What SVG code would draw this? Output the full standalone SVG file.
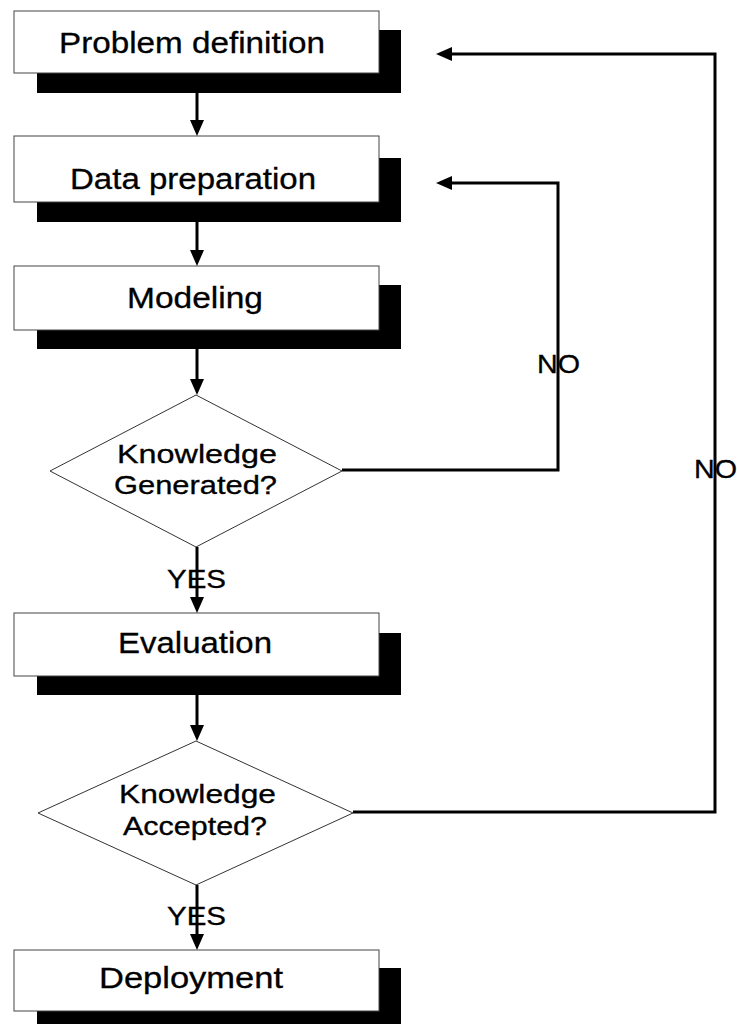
<svg xmlns="http://www.w3.org/2000/svg" width="737" height="1025" viewBox="0 0 737 1025">
  <style>
    .shadow { fill: #000; }
    .box { fill: #fff; stroke: #444; stroke-width: 1; }
    .dec { fill: #fff; stroke: #333; stroke-width: 1; }
    .lbl { font-family: "Liberation Sans", Arial, sans-serif; font-size: 29px; fill: #000; stroke: #000; stroke-width: 0.3; text-anchor: middle; }
    .q { font-family: "Liberation Sans", Arial, sans-serif; font-size: 25px; fill: #000; stroke: #000; stroke-width: 0.3; text-anchor: middle; }
    .tag { font-family: "Liberation Sans", Arial, sans-serif; font-size: 25px; fill: #000; stroke: #000; stroke-width: 0.3; }
    .flow { fill: none; stroke: #000; stroke-width: 3; marker-end: url(#head); }
  </style>
  <defs>
    <marker id="head" markerUnits="userSpaceOnUse" markerWidth="16" markerHeight="14" viewBox="0 0 16 14" refX="3" refY="7" orient="auto">
      <path d="M0,0 L16,7 L0,14 z" fill="#000"/>
    </marker>
  </defs>
  <rect width="737" height="1025" fill="#fff"/>

  <!-- process steps -->
  <g id="problem-definition">
    <rect class="shadow" x="37" y="30" width="364" height="63"/>
    <rect class="box" x="14" y="11" width="365" height="62"/>
    <text class="lbl" x="192" y="53" textLength="266" lengthAdjust="spacingAndGlyphs">Problem definition</text>
  </g>
  <g id="data-preparation">
    <rect class="shadow" x="37" y="158" width="364" height="64"/>
    <rect class="box" x="14" y="136" width="365" height="66"/>
    <text class="lbl" x="193" y="189" textLength="246" lengthAdjust="spacingAndGlyphs">Data preparation</text>
  </g>
  <g id="modeling">
    <rect class="shadow" x="37" y="285" width="364" height="64"/>
    <rect class="box" x="14" y="266" width="365" height="64"/>
    <text class="lbl" x="195" y="308" textLength="136" lengthAdjust="spacingAndGlyphs">Modeling</text>
  </g>
  <g id="knowledge-generated">
    <polygon class="dec" points="196,395 342,471 196,547 50,471"/>
    <text class="q" x="197" y="463" textLength="160" lengthAdjust="spacingAndGlyphs">Knowledge</text>
    <text class="q" x="195.5" y="494" textLength="163" lengthAdjust="spacingAndGlyphs">Generated?</text>
  </g>
  <g id="evaluation">
    <rect class="shadow" x="37" y="633" width="364" height="62"/>
    <rect class="box" x="14" y="613" width="365" height="63"/>
    <text class="lbl" x="195" y="653" textLength="154" lengthAdjust="spacingAndGlyphs">Evaluation</text>
  </g>
  <g id="knowledge-accepted">
    <polygon class="dec" points="196,741 353,813 196,885 38,813"/>
    <text class="q" x="197.5" y="803" textLength="157" lengthAdjust="spacingAndGlyphs">Knowledge</text>
    <text class="q" x="195" y="835" textLength="144" lengthAdjust="spacingAndGlyphs">Accepted?</text>
  </g>
  <g id="deployment">
    <rect class="shadow" x="37" y="968" width="364" height="56"/>
    <rect class="box" x="14" y="950" width="365" height="61"/>
    <text class="lbl" x="191" y="988" textLength="184" lengthAdjust="spacingAndGlyphs">Deployment</text>
  </g>

  <!-- connectors -->
  <g id="connectors">
    <line class="flow" x1="197" y1="93" x2="197" y2="123"/>
    <line class="flow" x1="197" y1="222" x2="197" y2="253"/>
    <line class="flow" x1="197" y1="349" x2="197" y2="382"/>
    <line class="flow" x1="197" y1="547" x2="197" y2="600"/>
    <line class="flow" x1="197" y1="695" x2="197" y2="728"/>
    <line class="flow" x1="197" y1="885" x2="197" y2="937"/>
    <path class="flow" d="M342,470 H558 V183 H449"/>
    <path class="flow" d="M353,812 H715 V54 H449"/>
    <text class="tag" x="167" y="588" textLength="59" lengthAdjust="spacingAndGlyphs">YES</text>
    <text class="tag" x="167" y="925" textLength="59" lengthAdjust="spacingAndGlyphs">YES</text>
    <text class="tag" x="537" y="373" textLength="43" lengthAdjust="spacingAndGlyphs">NO</text>
    <text class="tag" x="694" y="478" textLength="43" lengthAdjust="spacingAndGlyphs">NO</text>
  </g>
</svg>
